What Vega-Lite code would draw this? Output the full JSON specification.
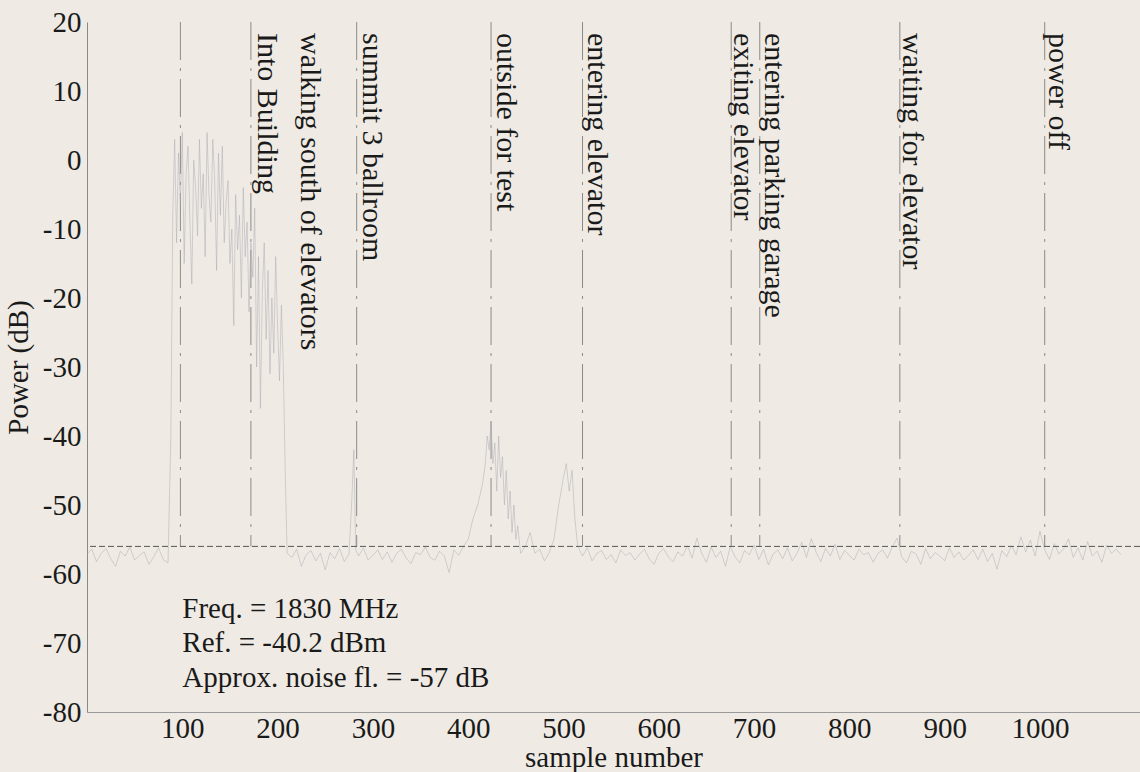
{
  "$schema": "https://vega.github.io/schema/vega-lite/v6.json",
  "autosize": "none",
  "width": 1053,
  "height": 690,
  "padding": {"left": 87, "top": 22, "right": 0, "bottom": 60},
  "background": "#efebe4",
  "config": {"view": {"stroke": null}, "font": "Liberation Serif, Times New Roman, serif"},
  "datasets": {
    "trace": [
      {"sample": 0, "power": -57.1}, {"sample": 5, "power": -56.4}, {"sample": 10, "power": -58.2}, {"sample": 15, "power": -57.0},
      {"sample": 20, "power": -56.3}, {"sample": 25, "power": -57.8}, {"sample": 30, "power": -58.9}, {"sample": 35, "power": -56.7},
      {"sample": 40, "power": -57.4}, {"sample": 45, "power": -56.1}, {"sample": 50, "power": -58.0}, {"sample": 55, "power": -57.3},
      {"sample": 60, "power": -56.8}, {"sample": 65, "power": -58.6}, {"sample": 70, "power": -57.5}, {"sample": 75, "power": -56.2},
      {"sample": 80, "power": -57.9}, {"sample": 85, "power": -58.4},
      {"sample": 88, "power": -40}, {"sample": 90, "power": -8}, {"sample": 92, "power": 3}, {"sample": 94, "power": -12},
      {"sample": 96, "power": 1}, {"sample": 98, "power": -6}, {"sample": 100, "power": 4}, {"sample": 102, "power": -15},
      {"sample": 104, "power": -2}, {"sample": 106, "power": 2}, {"sample": 108, "power": -9}, {"sample": 110, "power": -18},
      {"sample": 112, "power": 0}, {"sample": 114, "power": -4}, {"sample": 116, "power": -11}, {"sample": 118, "power": 3},
      {"sample": 120, "power": -7}, {"sample": 122, "power": -2}, {"sample": 124, "power": -14}, {"sample": 126, "power": 4},
      {"sample": 128, "power": -5}, {"sample": 130, "power": -9}, {"sample": 132, "power": 3}, {"sample": 134, "power": -3},
      {"sample": 136, "power": -16}, {"sample": 138, "power": 1}, {"sample": 140, "power": -8}, {"sample": 142, "power": 2},
      {"sample": 144, "power": -12}, {"sample": 146, "power": -6}, {"sample": 148, "power": -3}, {"sample": 150, "power": -15},
      {"sample": 152, "power": -10}, {"sample": 154, "power": -24}, {"sample": 156, "power": -5}, {"sample": 158, "power": -13},
      {"sample": 160, "power": -8}, {"sample": 162, "power": -20}, {"sample": 164, "power": -4}, {"sample": 166, "power": -14},
      {"sample": 168, "power": -9}, {"sample": 170, "power": -22}, {"sample": 172, "power": -12}, {"sample": 174, "power": -17},
      {"sample": 176, "power": -7}, {"sample": 178, "power": -30}, {"sample": 180, "power": -14}, {"sample": 182, "power": -36},
      {"sample": 184, "power": -19}, {"sample": 186, "power": -12}, {"sample": 188, "power": -26}, {"sample": 190, "power": -16},
      {"sample": 192, "power": -31}, {"sample": 194, "power": -20}, {"sample": 196, "power": -28}, {"sample": 198, "power": -14},
      {"sample": 200, "power": -24}, {"sample": 202, "power": -32}, {"sample": 204, "power": -21}, {"sample": 206, "power": -30},
      {"sample": 208, "power": -45}, {"sample": 210, "power": -57},
      {"sample": 215, "power": -57.6}, {"sample": 220, "power": -56.4}, {"sample": 225, "power": -58.9}, {"sample": 230, "power": -57.2},
      {"sample": 235, "power": -56.6}, {"sample": 240, "power": -58.1}, {"sample": 245, "power": -57.0}, {"sample": 250, "power": -59.4},
      {"sample": 255, "power": -56.9}, {"sample": 260, "power": -57.8}, {"sample": 265, "power": -56.3}, {"sample": 270, "power": -58.2},
      {"sample": 275, "power": -57.1}, {"sample": 278, "power": -49}, {"sample": 280, "power": -42}, {"sample": 282, "power": -56.5},
      {"sample": 285, "power": -57.4}, {"sample": 290, "power": -56.2}, {"sample": 295, "power": -58.0}, {"sample": 300, "power": -57.3},
      {"sample": 305, "power": -56.5}, {"sample": 310, "power": -57.9}, {"sample": 315, "power": -56.8}, {"sample": 320, "power": -58.3},
      {"sample": 325, "power": -57.0}, {"sample": 330, "power": -56.4}, {"sample": 335, "power": -57.7}, {"sample": 340, "power": -58.5},
      {"sample": 345, "power": -56.9}, {"sample": 350, "power": -57.2}, {"sample": 355, "power": -56.1}, {"sample": 360, "power": -57.6},
      {"sample": 365, "power": -58.0}, {"sample": 370, "power": -56.7}, {"sample": 375, "power": -57.4}, {"sample": 380, "power": -59.8},
      {"sample": 385, "power": -56.5}, {"sample": 390, "power": -57.3}, {"sample": 395, "power": -56.0},
      {"sample": 400, "power": -55}, {"sample": 405, "power": -52}, {"sample": 410, "power": -50}, {"sample": 415, "power": -47},
      {"sample": 418, "power": -44}, {"sample": 420, "power": -40}, {"sample": 422, "power": -42}, {"sample": 424, "power": -38},
      {"sample": 426, "power": -44}, {"sample": 428, "power": -41}, {"sample": 430, "power": -48}, {"sample": 432, "power": -40},
      {"sample": 434, "power": -46}, {"sample": 436, "power": -43}, {"sample": 438, "power": -50}, {"sample": 440, "power": -45},
      {"sample": 442, "power": -52}, {"sample": 444, "power": -48}, {"sample": 446, "power": -54}, {"sample": 448, "power": -50},
      {"sample": 450, "power": -55}, {"sample": 452, "power": -53}, {"sample": 455, "power": -57}, {"sample": 460, "power": -56},
      {"sample": 465, "power": -54}, {"sample": 470, "power": -57}, {"sample": 475, "power": -56.4}, {"sample": 480, "power": -58.1},
      {"sample": 485, "power": -56.9}, {"sample": 490, "power": -55}, {"sample": 495, "power": -50}, {"sample": 500, "power": -46},
      {"sample": 503, "power": -44}, {"sample": 506, "power": -48}, {"sample": 509, "power": -45}, {"sample": 512, "power": -52},
      {"sample": 515, "power": -56},
      {"sample": 520, "power": -57.4}, {"sample": 525, "power": -56.2}, {"sample": 530, "power": -58.1}, {"sample": 535, "power": -57.0},
      {"sample": 540, "power": -56.6}, {"sample": 545, "power": -57.9}, {"sample": 550, "power": -57.2}, {"sample": 555, "power": -58.4},
      {"sample": 560, "power": -56.5}, {"sample": 565, "power": -57.3}, {"sample": 570, "power": -56.9}, {"sample": 575, "power": -58.0},
      {"sample": 580, "power": -57.1}, {"sample": 585, "power": -56.4}, {"sample": 590, "power": -57.8}, {"sample": 595, "power": -58.6},
      {"sample": 600, "power": -57.0}, {"sample": 605, "power": -56.3}, {"sample": 610, "power": -57.5}, {"sample": 615, "power": -58.2},
      {"sample": 620, "power": -56.8}, {"sample": 625, "power": -57.4}, {"sample": 630, "power": -55.9}, {"sample": 635, "power": -57.7},
      {"sample": 640, "power": -54.8}, {"sample": 645, "power": -57.0}, {"sample": 650, "power": -58.3}, {"sample": 655, "power": -56.1},
      {"sample": 660, "power": -57.6}, {"sample": 665, "power": -56.7}, {"sample": 670, "power": -58.9}, {"sample": 675, "power": -56.0},
      {"sample": 680, "power": -57.5}, {"sample": 685, "power": -58.4}, {"sample": 690, "power": -56.6}, {"sample": 695, "power": -57.2},
      {"sample": 700, "power": -55.8}, {"sample": 705, "power": -57.9}, {"sample": 710, "power": -56.4}, {"sample": 715, "power": -58.7},
      {"sample": 720, "power": -57.1}, {"sample": 725, "power": -56.5}, {"sample": 730, "power": -57.8}, {"sample": 735, "power": -56.2},
      {"sample": 740, "power": -58.1}, {"sample": 745, "power": -57.0}, {"sample": 750, "power": -55.4}, {"sample": 755, "power": -57.6},
      {"sample": 760, "power": -54.9}, {"sample": 765, "power": -56.8}, {"sample": 770, "power": -58.2}, {"sample": 775, "power": -56.3},
      {"sample": 780, "power": -57.4}, {"sample": 785, "power": -55.7}, {"sample": 790, "power": -57.9}, {"sample": 795, "power": -56.6},
      {"sample": 800, "power": -57.3}, {"sample": 805, "power": -58.0}, {"sample": 810, "power": -56.4}, {"sample": 815, "power": -57.2},
      {"sample": 820, "power": -56.9}, {"sample": 825, "power": -58.3}, {"sample": 830, "power": -57.0}, {"sample": 835, "power": -56.5},
      {"sample": 840, "power": -57.7}, {"sample": 845, "power": -56.1}, {"sample": 850, "power": -54.8}, {"sample": 855, "power": -57.5},
      {"sample": 860, "power": -58.4}, {"sample": 865, "power": -56.7}, {"sample": 870, "power": -57.1}, {"sample": 875, "power": -58.6},
      {"sample": 880, "power": -56.3}, {"sample": 885, "power": -57.8}, {"sample": 890, "power": -56.9}, {"sample": 895, "power": -57.4},
      {"sample": 900, "power": -58.1}, {"sample": 905, "power": -56.2}, {"sample": 910, "power": -57.6}, {"sample": 915, "power": -56.8},
      {"sample": 920, "power": -58.0}, {"sample": 925, "power": -57.3}, {"sample": 930, "power": -56.5}, {"sample": 935, "power": -57.9},
      {"sample": 940, "power": -56.4}, {"sample": 945, "power": -58.2}, {"sample": 950, "power": -57.0}, {"sample": 955, "power": -59.3},
      {"sample": 960, "power": -56.6}, {"sample": 965, "power": -57.5}, {"sample": 970, "power": -55.9}, {"sample": 975, "power": -57.2},
      {"sample": 980, "power": -54.6}, {"sample": 985, "power": -56.8}, {"sample": 990, "power": -55.1}, {"sample": 995, "power": -57.4},
      {"sample": 1000, "power": -53.8}, {"sample": 1005, "power": -56.5}, {"sample": 1010, "power": -57.9}, {"sample": 1015, "power": -55.6},
      {"sample": 1020, "power": -57.1}, {"sample": 1025, "power": -56.3}, {"sample": 1030, "power": -54.9}, {"sample": 1035, "power": -57.6},
      {"sample": 1040, "power": -56.2}, {"sample": 1045, "power": -58.0}, {"sample": 1050, "power": -55.3}, {"sample": 1055, "power": -57.4},
      {"sample": 1060, "power": -56.7}, {"sample": 1065, "power": -58.3}, {"sample": 1070, "power": -55.8}, {"sample": 1075, "power": -57.0},
      {"sample": 1080, "power": -56.4}, {"sample": 1085, "power": -57.2}
    ],
    "events": [
      {"sample": 98, "top": 20, "bottom": -56},
      {"sample": 172, "top": 20, "bottom": -56},
      {"sample": 283, "top": 20, "bottom": -56},
      {"sample": 424, "top": 20, "bottom": -56},
      {"sample": 520, "top": 20, "bottom": -56},
      {"sample": 676, "top": 20, "bottom": -56},
      {"sample": 706, "top": 20, "bottom": -56},
      {"sample": 853, "top": 20, "bottom": -56},
      {"sample": 1005, "top": 20, "bottom": -56}
    ],
    "labels": [
      {"sample": 189, "power": 18.4, "label": "Into Building"},
      {"sample": 233.7, "power": 18.4, "label": "walking south of elevators"},
      {"sample": 298.8, "power": 18.4, "label": "summit 3 ballroom"},
      {"sample": 440, "power": 18.4, "label": "outside for test"},
      {"sample": 535, "power": 18.4, "label": "entering elevator"},
      {"sample": 688.7, "power": 18.4, "label": "exiting elevator"},
      {"sample": 720.8, "power": 18.4, "label": "entering parking garage"},
      {"sample": 865.3, "power": 18.4, "label": "waiting for elevator"},
      {"sample": 1018.9, "power": 18.4, "label": "power off"}
    ],
    "notes": [
      {"sample": 100, "power": -65, "text": "Freq. = 1830 MHz"},
      {"sample": 100, "power": -70, "text": "Ref. = -40.2 dBm"},
      {"sample": 100, "power": -75, "text": "Approx. noise fl. = -57 dB"}
    ],
    "floor": [{"power": -56}]
  },
  "layer": [
    {
      "data": {"name": "events"},
      "mark": {"type": "rule", "color": "#8a8a8a", "strokeWidth": 1, "strokeDash": [38, 8, 3, 8]},
      "encoding": {
        "x": {"field": "sample", "type": "quantitative", "scale": {"domain": [0, 1105], "nice": false, "zero": false},
          "axis": {"values": [100, 200, 300, 400, 500, 600, 700, 800, 900, 1000], "format": "d", "title": "sample number",
            "titleFont": "Liberation Serif", "titleFontSize": 29, "titleFontWeight": "normal", "titleColor": "#1a1a1a", "titlePadding": 0,
            "labelFont": "Liberation Serif", "labelFontSize": 29, "labelColor": "#1a1a1a", "labelPadding": 2,
            "ticks": false, "domainColor": "#999", "grid": false, "labelFlush": false}},
        "y": {"field": "top", "type": "quantitative", "scale": {"domain": [-80, 20], "nice": false},
          "axis": {"values": [-80, -70, -60, -50, -40, -30, -20, -10, 0, 10, 20], "title": "Power (dB)",
            "labelExpr": "replace(datum.label, '\u2212', '-')",
            "titleFont": "Liberation Serif", "titleFontSize": 29, "titleFontWeight": "normal", "titleColor": "#1a1a1a", "titlePadding": 9,
            "labelFont": "Liberation Serif", "labelFontSize": 29, "labelColor": "#1a1a1a", "labelPadding": 6,
            "ticks": false, "domainColor": "#888", "grid": false, "labelFlush": false}},
        "y2": {"field": "bottom"}
      }
    },
    {
      "data": {"name": "trace"},
      "mark": {"type": "line", "color": "#aaa6b4", "strokeWidth": 0.8, "opacity": 0.6},
      "encoding": {
        "x": {"field": "sample", "type": "quantitative"},
        "y": {"field": "power", "type": "quantitative"}
      }
    },
    {
      "data": {"name": "floor"},
      "mark": {"type": "rule", "color": "#555", "strokeWidth": 1, "strokeDash": [6, 3]},
      "encoding": {"y": {"field": "power", "type": "quantitative"}}
    },
    {
      "data": {"name": "labels"},
      "mark": {"type": "text", "angle": 90, "align": "left", "baseline": "middle", "font": "Liberation Serif", "fontSize": 30, "color": "#1a1a1a"},
      "encoding": {
        "x": {"field": "sample", "type": "quantitative"},
        "y": {"field": "power", "type": "quantitative"},
        "text": {"field": "label"}
      }
    },
    {
      "data": {"name": "notes"},
      "mark": {"type": "text", "align": "left", "baseline": "middle", "font": "Liberation Serif", "fontSize": 29, "color": "#1a1a1a"},
      "encoding": {
        "x": {"field": "sample", "type": "quantitative"},
        "y": {"field": "power", "type": "quantitative"},
        "text": {"field": "text"}
      }
    }
  ]
}
